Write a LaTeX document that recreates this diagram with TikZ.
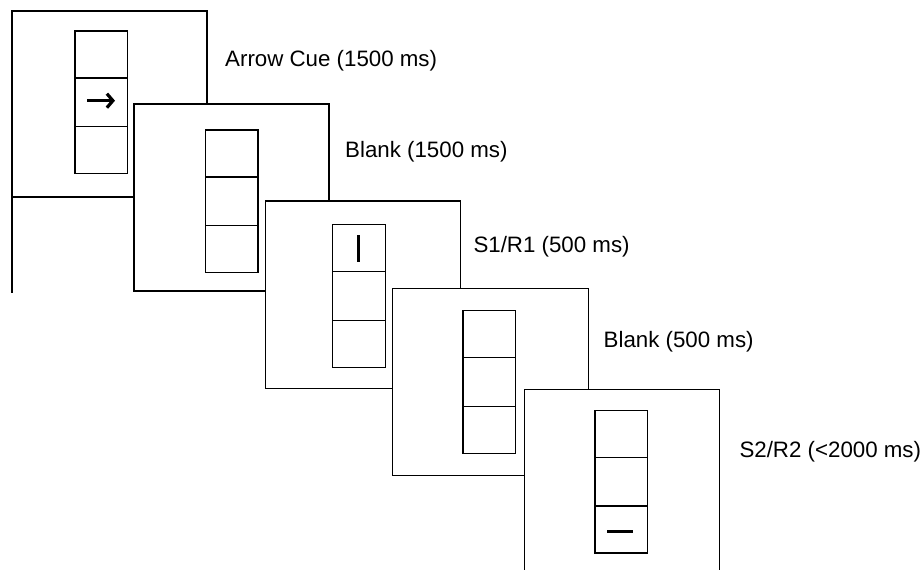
\documentclass[tikz,border=0pt]{standalone}
\usepackage{fontspec}
\setmainfont{Liberation Sans}
\usetikzlibrary{arrows.meta}
\tikzset{
  frame/.style={draw=black, fill=white, line width=1.3pt},
  col/.style={draw=black, line width=1.3pt},
  mark bar/.style={line width=3pt, line cap=butt},
  lbl/.style={anchor=base west, inner sep=0pt, font=\fontsize{22.3}{26}\selectfont}
}
\newcommand{\stimcol}[3]{% name, x, y (top-left)
  \draw[col] (#2,#3) rectangle ++(52.5,142.5);
  \draw[col] (#2,#3+47) -- ++(52.5,0);
  \draw[col] (#2,#3+95.5) -- ++(52.5,0);
}
\begin{document}
\begin{tikzpicture}[x=1pt,y=-1pt]
\clip (0,0) rectangle (922,570);
\fill[white] (0,0) rectangle (922,570);
% frame 1
\draw[frame] (12,11) rectangle (207,197);
\coordinate (e1) at (12,197);
\coordinate (e2) at (12,293);
\draw[line width=1.3pt] (e1) -- (e2);
\stimcol{c1}{75}{31}
\coordinate (a1) at (87,100.7);
\coordinate (a2) at (115,100.7);
\draw[line width=3.2pt, -{Straight Barb[length=6pt,width=14pt,line width=3.2pt]}] (a1) -- (a2);
% frame 2
\draw[frame] (134,104) rectangle (329,291);
\stimcol{c2}{205.5}{130}
% frame 3
\draw[frame] (265.5,201) rectangle (460.5,388.5);
\stimcol{c3}{332.7}{224.7}
\coordinate (v1) at (358.7,235);
\coordinate (v2) at (358.7,262);
\draw[mark bar] (v1) -- (v2);
% frame 4
\draw[frame] (392.3,288.7) rectangle (588.3,475.7);
\stimcol{c4}{463}{310.7}
% frame 5
\draw[frame] (524.3,389.7) rectangle (719.5,600);
\stimcol{c5}{595}{410.5}
\coordinate (h1) at (607.3,531.7);
\coordinate (h2) at (632.5,531.7);
\draw[mark bar] (h1) -- (h2);
% labels
\node[lbl] (t1) at (225,66) {Arrow Cue (1500 ms)};
\node[lbl] (t2) at (345,157.3) {Blank (1500 ms)};
\node[lbl] (t3) at (473.3,252.3) {S1/R1 (500 ms)};
\node[lbl] (t4) at (603.5,347.3) {Blank (500 ms)};
\node[lbl] (t5) at (739.3,457.3) {S2/R2 (<2000 ms)};
\end{tikzpicture}
\end{document}
